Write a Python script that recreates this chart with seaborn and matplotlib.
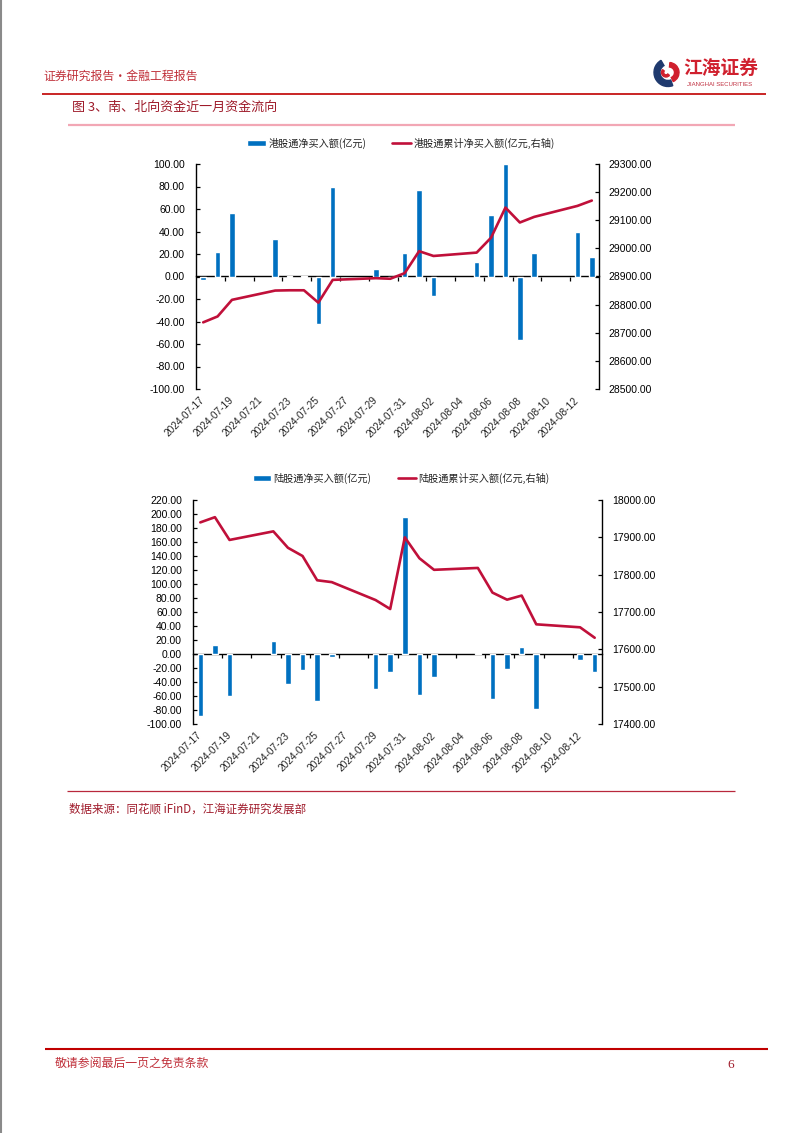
import numpy as np
import pandas as pd
import matplotlib
matplotlib.use("Agg")
import matplotlib.pyplot as plt
import seaborn as sns
from matplotlib.lines import Line2D
from matplotlib.patches import Wedge

# trading days (2024-07-17 .. 2024-08-13)
dates = ["2024-07-17", "2024-07-18", "2024-07-19", "2024-07-22", "2024-07-23",
         "2024-07-24", "2024-07-25", "2024-07-26", "2024-07-29", "2024-07-30",
         "2024-07-31", "2024-08-01", "2024-08-02", "2024-08-05", "2024-08-06",
         "2024-08-07", "2024-08-08", "2024-08-09", "2024-08-12", "2024-08-13"]

# southbound (港股通)
south_net = [-2.8, 21.9, 56.2, 33.7, 0.8, 0.2, -42.6, 80.0, 6.5, -1.0,
             21.0, 76.9, -17.5, 12.7, 54.3, 100.3, -56.0, 20.6, 39.8, 17.7]
south_cum = [28737, 28758, 28817, 28850, 28851, 28851, 28807, 28888, 28894, 28892,
             28912, 28990, 28973, 28985, 29038, 29145, 29092, 29112, 29151, 29170]

# northbound (陆股通)
north_net = [-89.0, 12.9, -60.3, 18.7, -43.0, -23.4, -67.0, -3.8, -50.7, -25.8,
             196.0, -57.9, -33.0, 1.4, -63.6, -22.0, 9.6, -78.5, -8.6, -25.8]
north_cum = [17940, 17954, 17893, 17916, 17872, 17850, 17785, 17780, 17732, 17708,
             17900, 17844, 17813, 17818, 17752, 17733, 17744, 17667, 17659, 17631]

tick_labels = ["2024-07-17", "2024-07-19", "2024-07-21", "2024-07-23", "2024-07-25",
               "2024-07-27", "2024-07-29", "2024-07-31", "2024-08-02", "2024-08-04",
               "2024-08-06", "2024-08-08", "2024-08-10", "2024-08-12"]

south_labels = ["港股通净买入额(亿元)", "港股通累计净买入额(亿元,右轴)"]
north_labels = ["陆股通净买入额(亿元)", "陆股通累计买入额(亿元,右轴)"]

BAR_COLOR = "#0070C0"
LINE_COLOR = "#C0103A"
CJK = ["Noto Sans CJK SC", "DejaVu Sans"]
NUM = ["Liberation Sans", "Noto Sans CJK SC"]

sns.set_theme(style="ticks")
plt.rcParams["font.family"] = NUM

W, H = 802, 1133
fig = plt.figure(figsize=(W / 100, H / 100), dpi=100)

start = pd.Timestamp("2024-07-17")
day_idx = [(pd.Timestamp(d) - start).days for d in dates]
tick_pos = [(pd.Timestamp(d) - start).days for d in tick_labels]


def fx(x):
    return x / W


def fy(y):
    return 1 - y / H


def hline(x0, x1, y, color, lw):
    fig.add_artist(Line2D([fx(x0), fx(x1)], [fy(y), fy(y)], transform=fig.transFigure,
                          color=color, lw=lw, solid_capstyle="butt"))


def make_panel(box, net, cum, ylim, yticks, y2lim, y2ticks, labels, legend_y):
    left, top, right, bottom = box
    ax = fig.add_axes([fx(left), fy(bottom), fx(right) - fx(left), fy(top) - fy(bottom)])
    sns.barplot(x=day_idx, y=net, native_scale=True, width=0.38, color=BAR_COLOR,
                saturation=1, ax=ax, label=labels[0])
    ax2 = ax.twinx()
    sns.lineplot(x=day_idx, y=cum, color=LINE_COLOR, lw=1.9, ax=ax2, label=labels[1])
    if ax2.get_legend() is not None:
        ax2.get_legend().remove()
    if ax.get_legend() is not None:
        ax.get_legend().remove()

    ax.set_xlim(-0.5, 27.5)
    ax.set_ylim(*ylim)
    ax.set_yticks(yticks)
    ax.set_yticklabels([f"{v:.2f}" for v in yticks])
    ax2.set_ylim(*y2lim)
    ax2.set_yticks(y2ticks)
    ax2.set_yticklabels([f"{v:.2f}" for v in y2ticks])

    ax.set_xticks(tick_pos)
    ax.set_xticklabels(tick_labels)
    ax.tick_params(axis="x", length=0, pad=7, labelsize=7.3)
    for lab in ax.get_xticklabels():
        lab.set(rotation=45, ha="right", va="center", rotation_mode="anchor")
    ax.tick_params(axis="y", direction="in", length=3, width=0.9, pad=8, labelsize=7.5, colors="black")
    ax2.tick_params(axis="y", direction="in", length=3, width=0.9, pad=7, labelsize=7.5, colors="black")

    for a in (ax, ax2):
        a.spines["top"].set_visible(False)
        a.spines["bottom"].set_visible(False)
        a.set_xlabel("")
        a.set_ylabel("")
        a.grid(False)
        a.set_facecolor("none")
    ax.spines["right"].set_visible(False)
    ax2.spines["left"].set_visible(False)
    ax.spines["left"].set_color("black")
    ax.spines["left"].set_linewidth(1.0)
    ax2.spines["right"].set_color("black")
    ax2.spines["right"].set_linewidth(1.0)

    # horizontal axis crossing at zero
    frac = (0 - ylim[0]) / (ylim[1] - ylim[0])
    secx = ax.secondary_xaxis(frac)
    secx.set_xticks(np.arange(1.5, 27, 2))
    secx.xaxis.set_ticks_position("bottom")
    secx.tick_params(axis="x", direction="out", length=3, width=0.9, labelbottom=False,
                     labeltop=False, colors="black")
    for s in secx.spines.values():
        s.set_color("black")
        s.set_linewidth(1.0)

    handles = [ax.containers[0], ax2.lines[0]]
    fig.legend(handles, labels, loc="center", bbox_to_anchor=(fx(401), fy(legend_y)),
               ncol=2, frameon=False, prop={"family": CJK, "size": 7.3},
               handlelength=1.8, handleheight=0.5, handletextpad=0.25, columnspacing=2.6)
    return ax, ax2


make_panel((196, 164, 599, 389), south_net, south_cum,
           (-100, 100), np.arange(-100, 101, 20),
           (28500, 29300), np.arange(28500, 29301, 100),
           south_labels, 143)

make_panel((193, 500, 602, 724), north_net, north_cum,
           (-100, 220), np.arange(-100, 221, 20),
           (17400, 18000), np.arange(17400, 18001, 100),
           north_labels, 478)

# page furniture
fig.add_artist(Line2D([fx(1), fx(1)], [0, 1], transform=fig.transFigure, color="#8a8a8a", lw=1.5))
fig.text(fx(43), fy(76), "证券研究报告·金融工程报告", family=CJK, fontsize=8.6,
         color="#C0303A", va="center", ha="left")
hline(42, 766, 94, "#C00000", 1.2)
fig.text(fx(72), fy(107), "图 3、南、北向资金近一月资金流向", family=CJK, fontsize=9.4,
         color="#9E1B2A", va="center", ha="left")
hline(68, 735, 125, "#F2A7B5", 1.6)

hline(67, 735, 791, "#B8283C", 0.9)
fig.text(fx(69), fy(809), "数据来源：同花顺 iFinD，江海证券研究发展部", family=CJK, fontsize=8.3,
         color="#A01C2C", va="center", ha="left")

hline(45, 768, 1049, "#C00000", 1.5)
fig.text(fx(55), fy(1063), "敬请参阅最后一页之免责条款", family=CJK, fontsize=8.6,
         color="#C0303A", va="center", ha="left")
fig.text(fx(731), fy(1065), "6", family=["Liberation Serif"], fontsize=9.5,
         color="#A01C2C", va="center", ha="center")

# logo
lax = fig.add_axes([fx(652), fy(88), fx(682) - fx(652), fy(57) - fy(88)])
lax.set_xlim(0, 30)
lax.set_ylim(0, 31)
lax.set_aspect("equal")
lax.axis("off")
lax.add_patch(Wedge((16, 15.5), 14, 120, 290, width=6, color="#1F3A6E"))
lax.add_patch(Wedge((17, 15.5), 10, 295, 85, width=4.5, color="#D0202E"))
lax.add_patch(Wedge((14, 15.5), 4.5, 140, 320, width=2.2, color="#D0202E"))
fig.text(fx(683), fy(68), "江海证券", family=CJK, fontsize=13.5, fontweight="bold",
         color="#D0202E", va="center", ha="left")
fig.text(fx(687), fy(84.5), "JIANGHAI SECURITIES", family=["Liberation Sans"], fontsize=4.3,
         color="#C03040", va="center", ha="left")

fig.savefig("out.png", dpi=100, facecolor="white")
